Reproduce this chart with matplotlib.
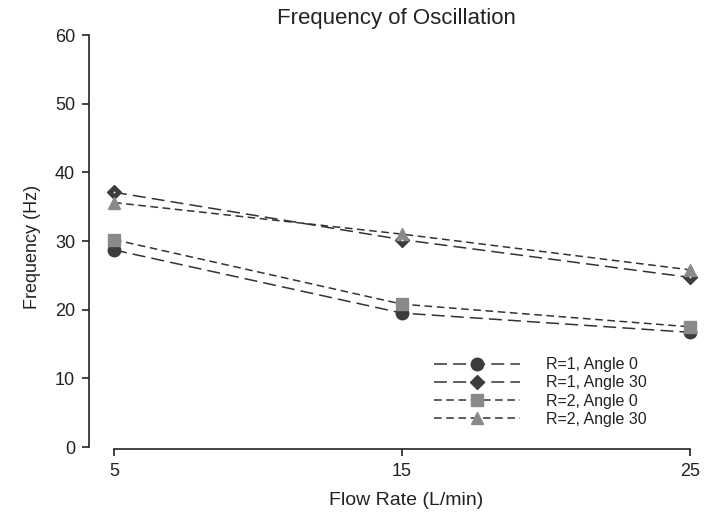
import matplotlib
matplotlib.use("Agg")
from matplotlib import pyplot as plt

plt.rcParams['font.family'] = ['Liberation Sans', 'DejaVu Sans']

flow_rate = [5, 15, 25]
r1_angle0 = [28.7, 19.5, 16.7]
r1_angle30 = [37.1, 30.2, 24.7]
r2_angle0 = [30.2, 20.8, 17.5]
r2_angle30 = [35.6, 31.0, 25.8]
labels = ['R=1, Angle 0', 'R=1, Angle 30', 'R=2, Angle 0', 'R=2, Angle 30']
y_ticks = [0, 10, 20, 30, 40, 50, 60]

line_col = '#333333'
dark = '#3c3c3c'
light = '#8a8a8a'

fig = plt.figure(figsize=(7.13, 5.17), dpi=100)
ax = fig.add_axes([114 / 713, 70 / 517, 576 / 713, 412 / 517])

long_dash = (8.5, 4)
short_dash = (5, 3)

ax.plot(flow_rate, r1_angle0, color=line_col, lw=1.1, dashes=long_dash,
        marker='o', ms=9, mfc=dark, mec=dark, label=labels[0], clip_on=False)
ax.plot(flow_rate, r1_angle30, color=line_col, lw=1.1, dashes=long_dash,
        marker='D', ms=7, mfc=dark, mec=dark, label=labels[1], clip_on=False)
ax.plot(flow_rate, r2_angle0, color=line_col, lw=1.1, dashes=short_dash,
        marker='s', ms=8.5, mfc=light, mec=light, label=labels[2], clip_on=False)
ax.plot(flow_rate, r2_angle30, color=line_col, lw=1.1, dashes=short_dash,
        marker='^', ms=9, mfc=light, mec=light, label=labels[3], clip_on=False)
# little white dot in the diamonds
ax.plot(flow_rate, r1_angle30, ls='none', marker='o', ms=1.3, mfc='white', mec='white',
        mew=0, clip_on=False)

ax.set_xlim(5, 25)
ax.set_ylim(0, 60)
ax.set_xticks(flow_rate)
ax.set_yticks(y_ticks)

for s in ['top', 'right']:
    ax.spines[s].set_visible(False)
ax.spines['left'].set_position(('outward', 18))
ax.spines['bottom'].set_position(('outward', 1.5))
for s in ['left', 'bottom']:
    ax.spines[s].set_linewidth(1.2)
    ax.spines[s].set_color('#222222')
ax.tick_params(direction='out', length=5, width=1.2, colors='#222222',
               labelsize=13, pad=5)

ax.set_xlabel('Flow Rate (L/min)', fontsize=14, color='#222222', va='center')
ax.xaxis.set_label_coords(0.507, -0.129)
ax.set_ylabel('Frequency (Hz)', fontsize=13, color='#222222', va='center')
ax.yaxis.set_label_coords(-0.142, 0.485)
ax.text(0.491, 1.04, 'Frequency of Oscillation', transform=ax.transAxes,
        fontsize=16, color='#222222', ha='center', va='center')

leg = ax.legend(loc='upper left', bbox_to_anchor=(0.555, 0.218), frameon=False,
                fontsize=11.5, handlelength=5.4, handletextpad=1.65,
                labelspacing=0.2, numpoints=1, borderpad=0, borderaxespad=0)
for t in leg.get_texts():
    t.set_color('#222222')

fig.savefig('out.png', dpi=100)
